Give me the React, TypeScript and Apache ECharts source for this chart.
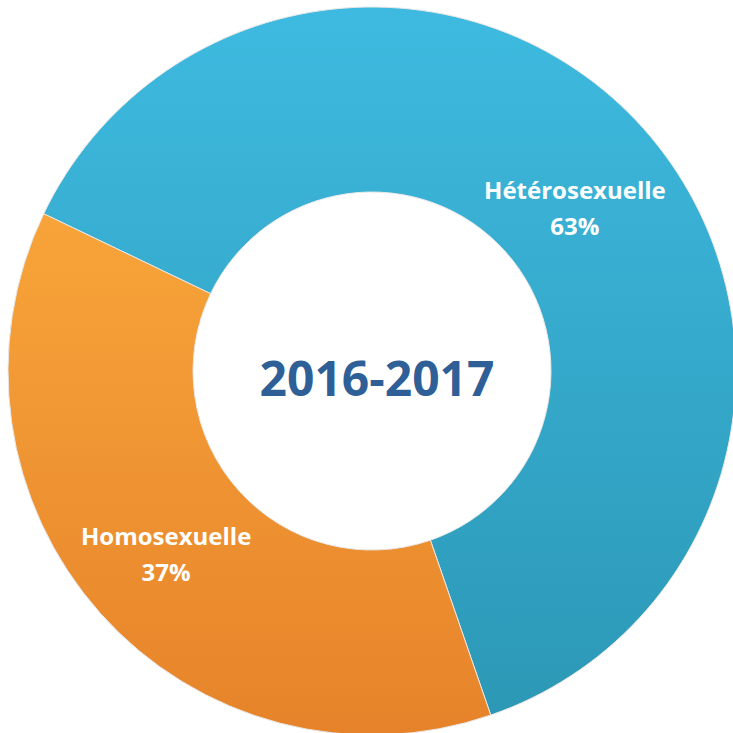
import React, { useEffect, useRef } from "react";
import * as echarts from "echarts";

const categories = ["Hétérosexuelle", "Homosexuelle"];
const values = [62.6, 37.4];
const title = "2016-2017";

export default function App() {
  const ref = useRef<HTMLDivElement>(null);
  useEffect(() => {
    if (!ref.current) return;
    const chart = echarts.init(ref.current, null, { renderer: "svg" });
    const colors = [
      new echarts.graphic.LinearGradient(0, 0, 0, 1, [
        { offset: 0, color: "#3EBAE0" },
        { offset: 1, color: "#2C98B6" },
      ]),
      new echarts.graphic.LinearGradient(0, 0, 0, 1, [
        { offset: 0, color: "#F8A43A" },
        { offset: 1, color: "#E6832A" },
      ]),
    ];
    const offsets = [
      [-2, 19],
      [-1, 0],
    ];
    chart.setOption({
      animation: false,
      backgroundColor: "#ffffff",
      title: {
        text: title,
        left: 372,
        top: 372,
        textAlign: "center",
        textVerticalAlign: "middle",
        textStyle: {
          color: "#2F5F97",
          fontSize: 48,
          fontWeight: "bold",
          fontFamily: "Open Sans",
        },
      },
      series: [
        {
          type: "pie",
          center: [372, 371],
          radius: [179, 364],
          startAngle: 154.4,
          clockwise: true,
          silent: true,
          itemStyle: {
            borderColor: "#e8e8e8",
            borderWidth: 1,
          },
          label: {
            show: true,
            position: "inside",
            color: "#ffffff",
            fontSize: 24,
            fontWeight: "bold",
            fontFamily: "Open Sans",
            lineHeight: 36,
            formatter: (p: any) => `${p.name}\n${Math.round(p.percent)}%`,
          },
          labelLine: { show: false },
          data: categories.map((name, i) => ({
            name,
            value: values[i],
            itemStyle: { color: colors[i] },
            label: { offset: offsets[i] },
          })),
        },
      ],
    });
    return () => chart.dispose();
  }, []);
  return (
    <div
      ref={ref}
      style={{ position: "fixed", left: 0, top: 0, width: 733, height: 733 }}
    />
  );
}
